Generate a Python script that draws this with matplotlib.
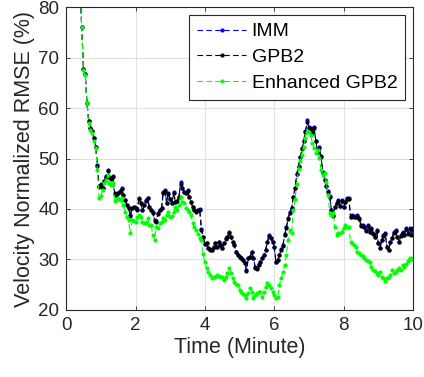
import matplotlib.pyplot as plt
import numpy as np

plt.rcParams['font.family'] = ['Liberation Sans', 'DejaVu Sans']

# RMSE readings (%), one sample every 0.05 min starting at 0.40 min
imm = [84.0, 76.0, 67.8, 66.8, 61.0, 57.5, 56.0, 55.5, 54.0, 52.3,
       48.7, 44.5, 45.0, 44.2, 45.6, 46.5, 47.8, 46.4, 46.1, 46.5,
       43.2, 42.8, 43.2, 43.5, 44.2, 42.8, 41.8, 40.8, 40.2, 38.8,
       40.2, 40.3, 40.2, 40.0, 42.2, 41.2, 39.8, 40.8, 41.8, 42.2,
       40.4, 39.8, 39.4, 37.8, 37.6, 39.2, 39.8, 40.2, 43.4, 43.8,
       41.2, 43.2, 42.0, 41.2, 43.4, 41.4, 41.6, 42.4, 45.3, 44.2,
       43.4, 43.2, 43.8, 42.4, 41.4, 40.4, 39.8, 39.6, 39.8, 40.0,
       36.0, 34.5, 33.0, 33.3, 32.3, 32.0, 31.9, 32.5, 33.3, 32.5,
       33.5, 32.9, 32.3, 33.3, 34.3, 34.5, 35.4, 34.5, 33.5, 32.9,
       31.5, 30.9, 30.5, 30.3, 29.9, 29.3, 27.9, 30.3, 30.5, 31.5,
       30.3, 28.5, 28.3, 29.0, 29.5, 30.3, 30.9, 31.9, 33.5, 34.9,
       34.3, 33.5, 32.5, 29.5, 29.9, 30.9, 32.0, 32.8, 35.0, 36.4,
       38.2, 39.4, 40.2, 42.4, 44.2, 47.0, 48.5, 50.4, 52.0, 53.5,
       55.5, 57.6, 56.2, 56.0, 55.2, 56.2, 53.5, 51.3, 52.3, 50.5,
       47.3, 45.8, 44.6, 43.5, 42.5, 39.8, 38.8, 40.4, 41.2, 41.8,
       40.6, 41.8, 40.4, 41.4, 42.2, 42.2, 38.5, 38.8, 38.6, 38.5,
       38.8, 38.2, 36.8, 36.8, 36.5, 35.8, 36.8, 35.5, 36.2, 35.2,
       34.5, 35.8, 33.3, 32.3, 33.9, 34.9, 35.2, 32.5, 31.9, 33.5,
       34.3, 35.5, 35.8, 34.5, 33.5, 34.9, 35.5, 34.9, 36.2, 35.2,
       36.2, 35.0, 36.2]

gpb2 = [84.0, 76.0, 67.8, 66.8, 61.0, 57.4, 56.0, 55.4, 54.0, 52.3,
        48.6, 44.3, 44.8, 44.2, 45.5, 46.3, 47.6, 46.4, 46.0, 46.4,
        43.0, 42.7, 43.2, 43.4, 44.0, 42.7, 41.8, 40.7, 40.2, 38.7,
        40.1, 40.3, 40.1, 39.8, 42.0, 41.2, 39.7, 40.7, 41.6, 42.1,
        40.4, 39.7, 39.3, 37.6, 37.5, 39.1, 39.8, 40.1, 43.2, 43.6,
        41.1, 43.0, 41.9, 41.1, 43.2, 41.3, 41.6, 42.3, 45.0, 44.1,
        43.3, 43.1, 43.6, 42.3, 41.3, 40.3, 39.7, 39.5, 39.7, 39.8,
        35.9, 34.4, 33.0, 33.2, 32.2, 31.9, 31.8, 32.4, 33.2, 32.4,
        33.4, 32.8, 32.2, 33.2, 34.1, 34.4, 35.2, 34.4, 33.4, 32.8,
        31.4, 30.8, 30.4, 30.2, 29.8, 29.2, 27.8, 30.2, 30.4, 31.4,
        30.2, 28.4, 28.2, 28.9, 29.4, 30.2, 30.8, 31.8, 33.4, 34.7,
        34.2, 33.4, 32.4, 29.4, 29.8, 30.8, 31.9, 32.7, 34.9, 36.3,
        38.1, 39.3, 40.1, 42.3, 44.1, 46.9, 48.4, 50.3, 51.9, 53.4,
        55.3, 57.3, 56.0, 55.8, 55.0, 56.0, 53.4, 51.2, 52.1, 50.4,
        47.2, 45.7, 44.5, 43.4, 42.4, 39.7, 38.7, 40.3, 41.1, 41.6,
        40.5, 41.6, 40.3, 41.3, 42.0, 42.0, 38.4, 38.7, 38.5, 38.4,
        38.7, 38.1, 36.7, 36.7, 36.4, 35.7, 36.6, 35.4, 36.1, 35.1,
        34.4, 35.6, 33.2, 32.2, 33.8, 34.7, 35.0, 32.4, 31.8, 33.4,
        34.2, 35.3, 35.6, 34.4, 33.4, 34.7, 35.3, 34.8, 36.0, 35.1,
        36.0, 34.9, 36.0]

enhanced = [84.0, 76.0, 67.5, 66.5, 61.0, 57.0, 55.6, 55.0, 53.5, 52.0,
            47.7, 42.2, 42.5, 43.8, 45.1, 45.7, 46.7, 45.1, 44.8, 45.1,
            41.5, 41.8, 42.2, 41.8, 42.2, 40.8, 39.5, 38.5, 37.8, 35.2,
            37.8, 37.6, 37.4, 38.4, 38.8, 38.4, 37.4, 37.2, 37.2, 38.2,
            36.8, 36.8, 34.9, 33.9, 36.4, 36.2, 37.2, 37.4, 38.2, 37.8,
            38.8, 39.4, 38.4, 38.6, 39.4, 40.4, 39.8, 40.8, 42.4, 41.4,
            41.2, 40.2, 39.8, 39.4, 38.8, 37.2, 36.4, 35.8, 35.0, 34.3,
            33.9, 31.0, 29.5, 28.3, 27.5, 26.9, 26.3, 26.5, 26.5, 26.9,
            26.7, 26.5, 26.5, 25.9, 26.5, 27.3, 28.3, 27.3, 26.3, 25.5,
            25.2, 24.9, 23.9, 23.6, 23.2, 23.0, 22.4, 23.4, 24.4, 23.6,
            22.4, 23.0, 23.4, 23.6, 23.6, 22.6, 23.6, 24.6, 25.3, 24.9,
            24.4, 23.5, 23.0, 22.4, 22.6, 24.9, 26.3, 27.5, 28.9, 30.9,
            33.9, 35.8, 35.2, 39.8, 42.0, 45.0, 48.0, 49.5, 50.7, 52.3,
            54.1, 55.2, 55.2, 54.7, 53.1, 52.0, 51.1, 51.7, 50.1, 47.7,
            46.7, 47.1, 45.3, 42.8, 39.2, 38.8, 39.2, 36.4, 34.9, 35.2,
            35.2, 35.5, 36.2, 36.8, 36.5, 36.4, 33.5, 33.3, 32.8, 32.5,
            31.5, 31.3, 30.9, 30.6, 30.3, 29.9, 29.6, 29.4, 28.6, 27.9,
            27.8, 27.3, 26.9, 27.6, 26.6, 26.4, 25.8, 26.3, 26.6, 26.9,
            27.9, 27.3, 27.6, 27.9, 28.3, 27.9, 28.9, 28.6, 29.0, 29.6,
            30.3, 30.0, 30.3]

labels = ['IMM', 'GPB2', 'Enhanced GPB2']
colors = ['#0000ff', '#000000', '#00ff00']

fig = plt.figure(figsize=(4.24, 3.77), dpi=100)
ax = fig.add_axes([0.156, 0.178, 0.818, 0.803])

for series, lab, col in zip([imm, gpb2, enhanced], labels, colors):
    t = np.linspace(0.40, 10.0, len(series))
    ax.plot(t, series, '--', color=col, marker='.', markersize=4,
            linewidth=0.8, dashes=(5, 3), label=lab)

ax.set_xlim(0, 10)
ax.set_ylim(20, 80)
ax.set_xticks([0, 2, 4, 6, 8, 10])
ax.set_yticks([20, 30, 40, 50, 60, 70, 80])
ax.grid(True, color='#e0e0e0', linewidth=0.8)
ax.set_axisbelow(True)
ax.tick_params(direction='in', top=True, right=True, labelsize=13.5,
               length=3, width=0.6, colors='#262626', pad=5)
for sp in ax.spines.values():
    sp.set_color('#262626')
    sp.set_linewidth(0.8)

ax.set_xlabel('Time (Minute)', fontsize=15.5, color='#262626', labelpad=2)
ax.set_ylabel('Velocity Normalized RMSE (%)', fontsize=15.5, color='#262626',
              labelpad=2)

leg = ax.legend(loc='upper right', fontsize=14, fancybox=False,
                handlelength=2.5, borderaxespad=0.4, labelspacing=0.42,
                handletextpad=0.3, framealpha=1, borderpad=0.4)
leg.get_frame().set_edgecolor('#262626')
leg.get_frame().set_linewidth(0.8)

fig.savefig('out.png', dpi=100)
